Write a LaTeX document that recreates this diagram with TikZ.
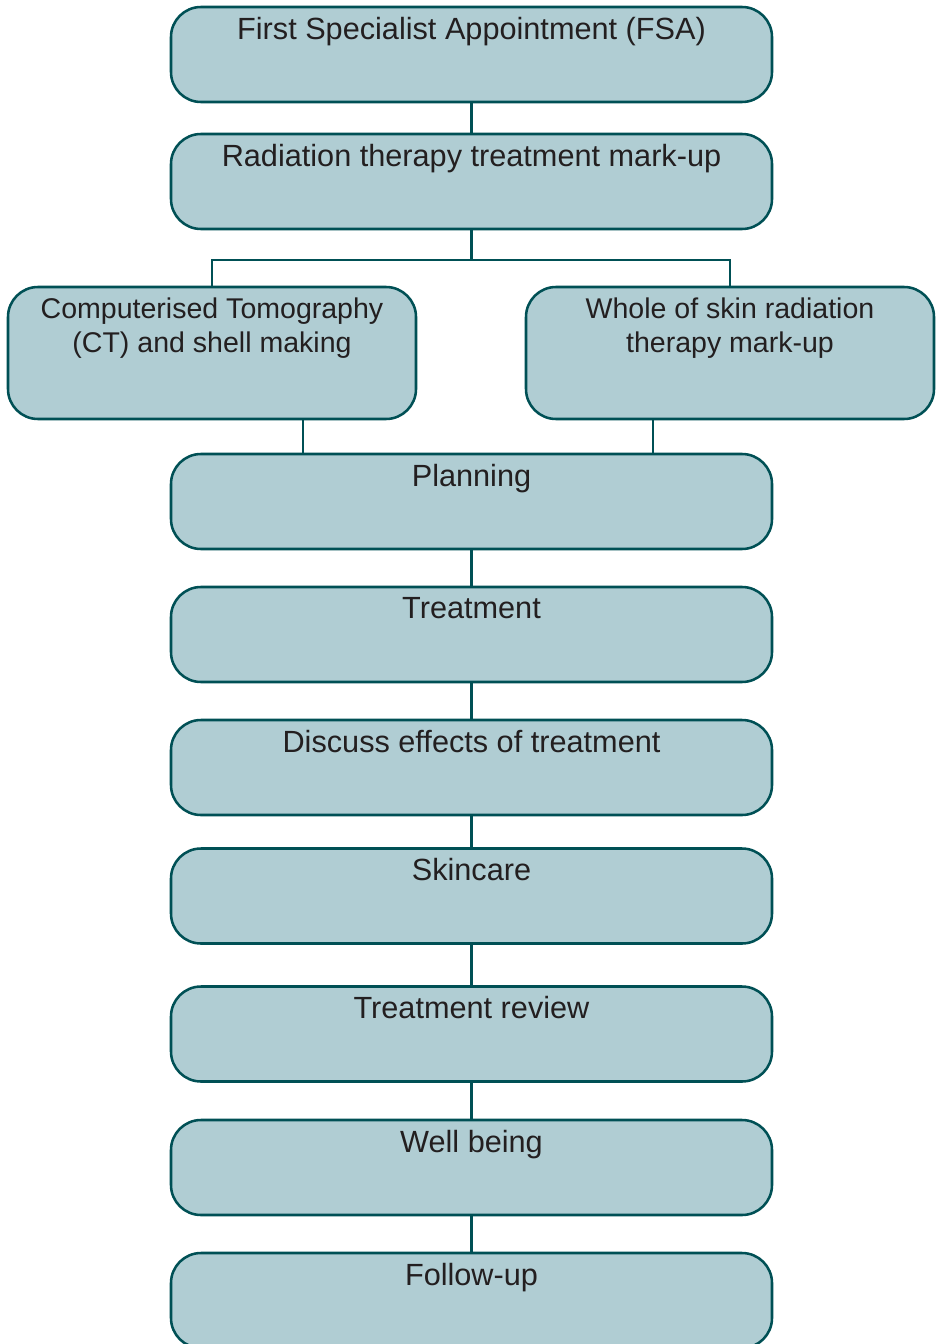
\documentclass[tikz,border=0pt]{standalone}
\usepackage{fontspec}
\setmainfont{Liberation Sans}
\usetikzlibrary{positioning}

\definecolor{boxfill}{RGB}{176,205,211}
\definecolor{boxline}{RGB}{0,80,85}
\definecolor{boxtext}{RGB}{35,31,32}

\tikzset{every picture/.style={line width=1.9pt},
	stagebox/.style={draw=boxline, fill=boxfill, rounded corners=22.5pt, minimum width=450.75pt, minimum height=71.25pt, inner sep=0pt},
	sidebox/.style={stagebox, minimum width=306pt, minimum height=99pt},
	stagetext/.style={anchor=north, inner sep=0pt, align=center, text=boxtext, font=\fontsize{23}{25.5}\selectfont},
	sidetext/.style={stagetext, font=\fontsize{21.4}{25.5}\selectfont},
	link/.style={draw=boxline, line width=1.7pt}}

\begin{document}
\begin{tikzpicture}[x=0.75pt,y=0.75pt,yscale=-1,xscale=1]
	\useasboundingbox (0,0) rectangle (942,1344);
	
	%Shape: Rounded Rect [id:fsa] 
	\node [stagebox] (fsa) at (471.5,54.5) {};
	%Shape: Rounded Rect [id:markup] 
	\node [stagebox] (markup) at (471.5,181.5) {};
	%Shape: Rounded Rect [id:ct] 
	\node [sidebox] (ct) at (212,353) {};
	%Shape: Rounded Rect [id:skin] 
	\node [sidebox] (skin) at (730,353) {};
	%Shape: Rounded Rect [id:plan] 
	\node [stagebox] (plan) at (471.5,501.5) {};
	%Shape: Rounded Rect [id:treat] 
	\node [stagebox] (treat) at (471.5,634.5) {};
	%Shape: Rounded Rect [id:effects] 
	\node [stagebox] (effects) at (471.5,767.5) {};
	%Shape: Rounded Rect [id:skincare] 
	\node [stagebox] (skincare) at (471.5,896) {};
	%Shape: Rounded Rect [id:review] 
	\node [stagebox] (review) at (471.5,1034) {};
	%Shape: Rounded Rect [id:wellbeing] 
	\node [stagebox] (wellbeing) at (471.5,1167.5) {};
	%Shape: Rounded Rect [id:followup] 
	\node [stagebox] (followup) at (471.5,1300.5) {};
	
	%Straight Lines [id:split] 
	\coordinate (split) at (471.5,260);
	\draw [link] (fsa.south) -- (markup.north);
	\draw [link] (markup.south) -- (split);
	\draw [link] (split) -| (ct.north);
	\draw [link] (split) -| (skin.north);
	\draw [link] ([xshift=68.25pt]ct.south) -- ([xshift=68.25pt]ct.south |- plan.north);
	\draw [link] ([xshift=-57.75pt]skin.south) -- ([xshift=-57.75pt]skin.south |- plan.north);
	\draw [link] (plan.south) -- (treat.north);
	\draw [link] (treat.south) -- (effects.north);
	\draw [link] (effects.south) -- (skincare.north);
	\draw [link] (skincare.south) -- (review.north);
	\draw [link] (review.south) -- (wellbeing.north);
	\draw [link] (wellbeing.south) -- (followup.north);
	
	% Text Node
	\node [stagetext] (fsalbl) at ([yshift=8pt]fsa.north) {First Specialist Appointment (FSA)};
	% Text Node
	\node [stagetext] (markuplbl) at ([yshift=8pt]markup.north) {Radiation therapy treatment mark-up};
	% Text Node
	\node [sidetext] (ctlbl) at ([yshift=8pt]ct.north) {Computerised Tomography\\(CT) and shell making};
	% Text Node
	\node [sidetext] (skinlbl) at ([yshift=8pt]skin.north) {Whole of skin radiation\\therapy mark-up};
	% Text Node
	\node [stagetext] (planlbl) at ([yshift=7.5pt]plan.north) {Planning};
	% Text Node
	\node [stagetext] (treatlbl) at ([yshift=7.5pt]treat.north) {Treatment};
	% Text Node
	\node [stagetext] (effectslbl) at ([yshift=7.5pt]effects.north) {Discuss effects of treatment};
	% Text Node
	\node [stagetext] (skincarelbl) at ([yshift=7.5pt]skincare.north) {Skincare};
	% Text Node
	\node [stagetext] (reviewlbl) at ([yshift=7.5pt]review.north) {Treatment review};
	% Text Node
	\node [stagetext] (wellbeinglbl) at ([yshift=7.5pt]wellbeing.north) {Well being};
	% Text Node
	\node [stagetext] (followuplbl) at ([yshift=7.5pt]followup.north) {Follow-up};
	
\end{tikzpicture}
\end{document}
